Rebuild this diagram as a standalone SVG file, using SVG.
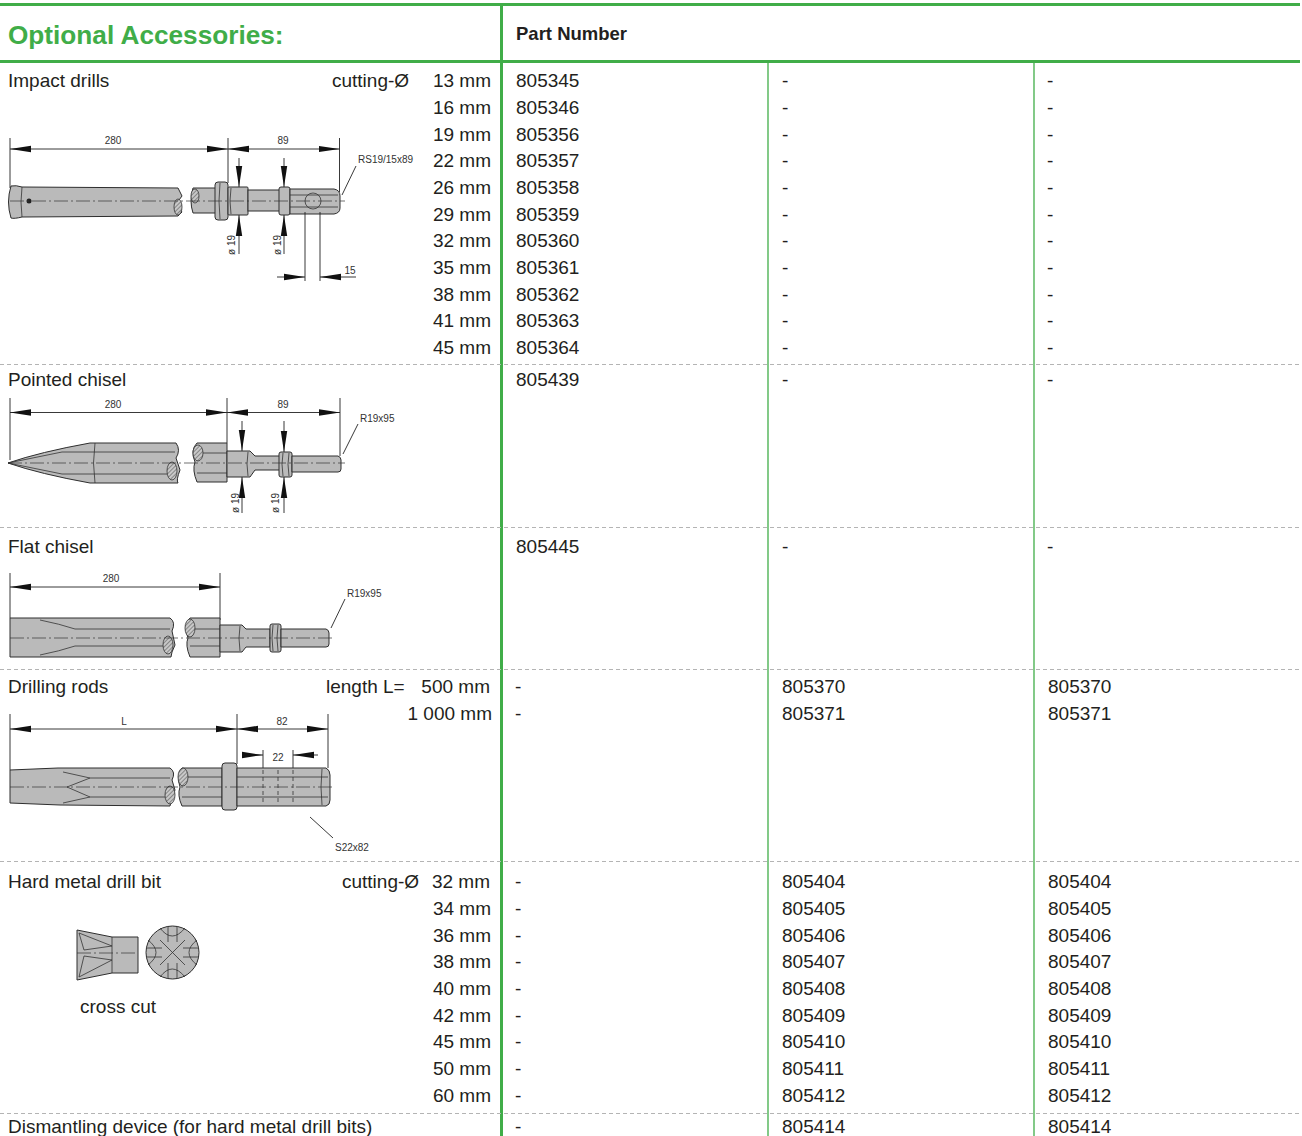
<svg xmlns="http://www.w3.org/2000/svg" width="1302" height="1136" viewBox="0 0 1302 1136">
<style>
.t{font-family:"Liberation Sans",Arial,sans-serif;font-size:19px;fill:#231f20}
.r{text-anchor:end}
.h{font-family:"Liberation Sans",Arial,sans-serif;font-weight:bold}
.d{font-family:"Liberation Sans",Arial,sans-serif;font-size:10px;fill:#333}
.dm{text-anchor:middle}
.sep{stroke:#b4b4b4;stroke-width:1;stroke-dasharray:4 3}
.body{fill:#bababa;stroke:#2e2e2e;stroke-width:1}
.thin{fill:none;stroke:#333;stroke-width:0.8}
.cl{fill:none;stroke:#333;stroke-width:0.7;stroke-dasharray:14 3 2 3}
.ext{stroke:#222;stroke-width:0.9;fill:none}
.dim{stroke:#222;stroke-width:0.9;fill:none;marker-start:url(#ah);marker-end:url(#ah)}
.ar{stroke:#222;stroke-width:0.9;fill:none;marker-end:url(#ah)}
.hat{fill:url(#hatch);stroke:#333;stroke-width:0.8}
</style>
<defs>
<marker id="ah" markerUnits="userSpaceOnUse" markerWidth="21" markerHeight="8" refX="21" refY="4" orient="auto-start-reverse">
<path d="M0,0.8 L21,4 L0,7.2 Z" fill="#111"/>
</marker>
<pattern id="hatch" patternUnits="userSpaceOnUse" width="3" height="3" patternTransform="rotate(45)">
<rect width="3" height="3" fill="#c8c8c8"/>
<line x1="0" y1="0" x2="0" y2="3" stroke="#444" stroke-width="1"/>
</pattern>
</defs>
<rect width="1302" height="1136" fill="#fff"/>

<g id="grid">
<line x1="0" y1="4.5" x2="1300" y2="4.5" stroke="#40ad48" stroke-width="3"/>
<line x1="0" y1="61.5" x2="1300" y2="61.5" stroke="#40ad48" stroke-width="3"/>
<line x1="501.5" y1="3" x2="501.5" y2="1136" stroke="#40ad48" stroke-width="3"/>
<line x1="768" y1="63" x2="768" y2="1136" stroke="#40ad48" stroke-width="1.3"/>
<line x1="1034" y1="63" x2="1034" y2="1136" stroke="#40ad48" stroke-width="1.3"/>
<line class="sep" x1="0" y1="364.5" x2="1302" y2="364.5"/>
<line class="sep" x1="0" y1="527.5" x2="1302" y2="527.5"/>
<line class="sep" x1="0" y1="669.5" x2="1302" y2="669.5"/>
<line class="sep" x1="0" y1="861.5" x2="1302" y2="861.5"/>
<line class="sep" x1="0" y1="1113.5" x2="1302" y2="1113.5"/>
</g>

<g id="header">
<text class="h" x="8" y="44" font-size="26.2" fill="#40ad48">Optional Accessories:</text>
<text class="h" x="516" y="40" font-size="18.5" fill="#231f20">Part Number</text>
</g>

<g id="impact-drills">
<text class="t" x="8" y="87">Impact drills</text>
<text class="t" x="332" y="87">cutting-Ø</text>
<text class="t r" x="491" y="87">13 mm</text>
<text class="t r" x="491" y="114">16 mm</text>
<text class="t r" x="491" y="141">19 mm</text>
<text class="t r" x="491" y="167">22 mm</text>
<text class="t r" x="491" y="194">26 mm</text>
<text class="t r" x="491" y="221">29 mm</text>
<text class="t r" x="491" y="247">32 mm</text>
<text class="t r" x="491" y="274">35 mm</text>
<text class="t r" x="491" y="301">38 mm</text>
<text class="t r" x="491" y="327">41 mm</text>
<text class="t r" x="491" y="354">45 mm</text>
<text class="t" x="516" y="87">805345</text>
<text class="t" x="516" y="114">805346</text>
<text class="t" x="516" y="141">805356</text>
<text class="t" x="516" y="167">805357</text>
<text class="t" x="516" y="194">805358</text>
<text class="t" x="516" y="221">805359</text>
<text class="t" x="516" y="247">805360</text>
<text class="t" x="516" y="274">805361</text>
<text class="t" x="516" y="301">805362</text>
<text class="t" x="516" y="327">805363</text>
<text class="t" x="516" y="354">805364</text>
<g class="t">
<text x="782" y="87">-</text><text x="782" y="114">-</text><text x="782" y="141">-</text><text x="782" y="167">-</text><text x="782" y="194">-</text><text x="782" y="221">-</text><text x="782" y="247">-</text><text x="782" y="274">-</text><text x="782" y="301">-</text><text x="782" y="327">-</text><text x="782" y="354">-</text>
<text x="1047" y="87">-</text><text x="1047" y="114">-</text><text x="1047" y="141">-</text><text x="1047" y="167">-</text><text x="1047" y="194">-</text><text x="1047" y="221">-</text><text x="1047" y="247">-</text><text x="1047" y="274">-</text><text x="1047" y="301">-</text><text x="1047" y="327">-</text><text x="1047" y="354">-</text>
</g>
<g id="drawing-impact">
<line class="ext" x1="10" y1="138" x2="10" y2="188"/>
<line class="ext" x1="228" y1="138" x2="228" y2="183"/>
<line class="ext" x1="339.5" y1="138" x2="339.5" y2="192"/>
<line class="dim" x1="10" y1="149" x2="228" y2="149"/>
<line class="dim" x1="228" y1="149" x2="339.5" y2="149"/>
<text class="d dm" x="113" y="144">280</text>
<text class="d dm" x="283" y="144">89</text>
<path class="body" d="M11,186 Q16,185 22,187 L178,188 L182,196 L176,204 L182,212 L178,216 L22,217 Q14,219 11,218 Q6,202 11,186 Z"/>
<path class="thin" d="M22,187 Q20,202 22,217"/>
<circle cx="29" cy="201" r="2.5" fill="#222"/>
<ellipse class="hat" cx="178" cy="207" rx="4" ry="8"/>
<path class="body" d="M193,188 L216,188 L216,213 L193,213 Q189,201 193,188 Z"/>
<ellipse class="hat" cx="195" cy="196" rx="4" ry="7"/>
<rect class="body" x="215" y="182" width="13" height="38" rx="3"/>
<rect class="body" x="228" y="187" width="20" height="28" rx="1"/>
<rect class="body" x="248" y="190" width="32" height="21"/>
<rect class="body" x="279" y="187" width="11" height="28" rx="2" fill="#a8a8a8"/>
<path class="body" d="M290,189 L334,189 Q340,190 340,196 L340,208 Q340,213 334,214 L290,214 Z"/>
<path class="thin" d="M290,195 L338,195 M290,207 L338,207 M220,183 Q218,201 220,219 M231,188 Q229,201 231,214"/>
<circle class="thin" cx="313" cy="201" r="8"/>
<line class="cl" x1="10" y1="201" x2="345" y2="201"/>
<line class="ar" x1="239" y1="158" x2="239" y2="187"/>
<line class="ar" x1="239" y1="254" x2="239" y2="215"/>
<line class="ar" x1="284" y1="158" x2="284" y2="187"/>
<line class="ar" x1="284" y1="254" x2="284" y2="215"/>
<text class="d dm" transform="translate(235,245) rotate(-90)">ø 19</text>
<text class="d dm" transform="translate(281,245) rotate(-90)">ø 19</text>
<line class="ext" x1="305" y1="212" x2="305" y2="281"/>
<line class="ext" x1="320" y1="212" x2="320" y2="281"/>
<line class="ar" x1="277" y1="277" x2="305" y2="277"/>
<line class="ar" x1="356" y1="277" x2="320" y2="277"/>
<text class="d dm" x="350" y="274">15</text>
<line class="ext" x1="342" y1="195" x2="356" y2="166"/>
<text class="d" x="358" y="163">RS19/15x89</text>
</g>
</g>

<g id="pointed-chisel">
<text class="t" x="8" y="386">Pointed chisel</text>
<text class="t" x="516" y="386">805439</text>
<text class="t" x="782" y="386">-</text>
<text class="t" x="1047" y="386">-</text>
<g id="drawing-pointed">
<line class="ext" x1="10" y1="398" x2="10" y2="460"/>
<line class="ext" x1="227" y1="398" x2="227" y2="443"/>
<line class="ext" x1="340" y1="398" x2="340" y2="456"/>
<line class="dim" x1="10" y1="412.5" x2="227" y2="412.5"/>
<line class="dim" x1="227" y1="412.5" x2="340" y2="412.5"/>
<text class="d dm" x="113" y="408">280</text>
<text class="d dm" x="283" y="408">89</text>
<path class="body" d="M8,463 Q40,452 90,443 L176,443 Q181,450 176,458 L180,470 Q176,480 178,483 L90,483 Q40,474 8,463 Z"/>
<path class="thin" d="M8,463 L62,452 L95,452 L175,452 M8,463 L62,474 L95,474 L175,474 M95,443 Q92,463 95,483"/>
<ellipse class="hat" cx="172" cy="471" rx="5" ry="9"/>
<path class="body" d="M197,443 L227,443 L227,482 L197,482 Q192,470 195,462 Q190,450 197,443 Z"/>
<path class="thin" d="M197,453 L227,453 M197,473 L227,473"/>
<ellipse class="hat" cx="198" cy="453" rx="5" ry="8"/>
<path class="body" d="M227,451 L250,451 L255,456 L280,456 L280,470 L255,470 L250,477 L227,477 Z"/>
<rect class="body" x="279" y="452" width="13" height="25" rx="2"/>
<path class="body" d="M292,456 L338,456 Q341,457 341,460 L341,469 Q341,472 338,472 L292,472 Z"/>
<path class="thin" d="M248,452 Q246,464 248,476 M283,453 Q281,464 283,476 M289,453 Q287,464 289,476"/>
<line class="cl" x1="8" y1="463" x2="345" y2="463"/>
<line class="ar" x1="242" y1="421" x2="242" y2="451"/>
<line class="ar" x1="242" y1="513" x2="242" y2="477"/>
<line class="ar" x1="284" y1="421" x2="284" y2="452"/>
<line class="ar" x1="284" y1="513" x2="284" y2="477"/>
<text class="d dm" transform="translate(238.5,503) rotate(-90)">ø 19</text>
<text class="d dm" transform="translate(278.5,503) rotate(-90)">ø 19</text>
<line class="ext" x1="343" y1="454" x2="358" y2="424"/>
<text class="d" x="360" y="422">R19x95</text>
</g>
</g>

<g id="flat-chisel">
<text class="t" x="8" y="553">Flat chisel</text>
<text class="t" x="516" y="553">805445</text>
<text class="t" x="782" y="553">-</text>
<text class="t" x="1047" y="553">-</text>
<g id="drawing-flat">
<line class="ext" x1="10" y1="573" x2="10" y2="618"/>
<line class="ext" x1="220" y1="573" x2="220" y2="620"/>
<line class="dim" x1="10" y1="587" x2="220" y2="587"/>
<text class="d dm" x="111" y="582">280</text>
<path class="body" d="M10,618 L170,618 Q176,622 172,631 L175,645 Q171,653 171,657 L10,657 Z"/>
<path class="thin" d="M40,620 Q60,624 75,629 L170,629 M40,655 Q60,651 75,646 L170,646"/>
<ellipse class="hat" cx="168" cy="645" rx="5" ry="9"/>
<path class="body" d="M190,618 L220,618 L220,657 L190,657 Q185,645 188,638 Q183,625 190,618 Z"/>
<path class="thin" d="M190,629 L220,629 M190,646 L220,646"/>
<ellipse class="hat" cx="190" cy="628" rx="5" ry="9"/>
<path class="body" d="M220,625 L242,625 L246,629 L270,629 L270,647 L246,647 L242,652 L220,652 Z"/>
<rect class="body" x="270" y="624" width="11" height="28" rx="2"/>
<path class="body" d="M281,629 L326,629 Q329,630 329,633 L329,644 Q329,647 326,647 L281,647 Z"/>
<path class="thin" d="M240,626 Q238,638 240,651 M273,625 Q271,638 273,651 M278,625 Q276,638 278,651"/>
<line class="cl" x1="10" y1="638" x2="332" y2="638"/>
<line class="ext" x1="331" y1="628" x2="345" y2="599"/>
<text class="d" x="347" y="597">R19x95</text>
</g>
</g>

<g id="drilling-rods">
<text class="t" x="8" y="693">Drilling rods</text>
<text class="t" x="326" y="693">length L=</text>
<text class="t r" x="490" y="693">500 mm</text>
<text class="t r" x="492" y="720">1 000 mm</text>
<text class="t" x="515" y="693">-</text>
<text class="t" x="515" y="720">-</text>
<text class="t" x="782" y="693">805370</text>
<text class="t" x="782" y="720">805371</text>
<text class="t" x="1048" y="693">805370</text>
<text class="t" x="1048" y="720">805371</text>
<g id="drawing-rods">
<line class="ext" x1="10" y1="714" x2="10" y2="770"/>
<line class="ext" x1="237" y1="714" x2="237" y2="764"/>
<line class="ext" x1="328" y1="714" x2="328" y2="768"/>
<line class="dim" x1="10" y1="729" x2="237" y2="729"/>
<line class="dim" x1="237" y1="729" x2="328" y2="729"/>
<text class="d dm" x="124" y="725">L</text>
<text class="d dm" x="282" y="725">82</text>
<line class="ext" x1="263" y1="750" x2="263" y2="778"/>
<line class="ext" x1="293" y1="750" x2="293" y2="778"/>
<line class="ar" x1="242" y1="755" x2="263" y2="755"/>
<line class="ar" x1="318" y1="755" x2="293" y2="755"/>
<text class="d dm" x="278" y="761">22</text>
<path class="body" d="M10,770 L58,768 L170,768 Q176,772 172,780 L175,790 Q171,800 170,806 L60,805 L10,803 Z"/>
<path class="thin" d="M63,772 L90,778 L67,787 L90,797 L63,803 M90,778 L170,778 M90,797 L170,797"/>
<ellipse class="hat" cx="170" cy="795" rx="5" ry="9"/>
<path class="body" d="M182,768 L222,768 L222,806 L182,806 Q177,795 180,787 Q176,775 182,768 Z"/>
<path class="thin" d="M182,777 L222,777 M182,797 L222,797"/>
<ellipse class="hat" cx="183" cy="777" rx="5" ry="9"/>
<rect class="body" x="222" y="763" width="15" height="47" rx="3"/>
<path class="body" d="M237,768 L326,768 Q330,770 330,775 L330,800 Q330,805 326,806 L237,806 Z"/>
<path class="thin" d="M237,777 L328,777 M237,797 L328,797 M322,769 Q320,787 322,805"/>
<path class="thin" stroke-dasharray="4 3" d="M263,770 L263,805 M278,770 L278,805 M293,770 L293,805"/>
<line class="cl" x1="10" y1="787" x2="332" y2="787"/>
<line class="ext" x1="310" y1="817" x2="333" y2="838"/>
<text class="d" x="335" y="851">S22x82</text>
</g>
</g>

<g id="hard-metal-drill-bit">
<text class="t" x="8" y="888">Hard metal drill bit</text>
<text class="t" x="342" y="888">cutting-Ø</text>
<text class="t r" x="490" y="888">32 mm</text>
<text class="t r" x="491" y="915">34 mm</text>
<text class="t r" x="491" y="942">36 mm</text>
<text class="t r" x="491" y="968">38 mm</text>
<text class="t r" x="491" y="995">40 mm</text>
<text class="t r" x="491" y="1022">42 mm</text>
<text class="t r" x="491" y="1048">45 mm</text>
<text class="t r" x="491" y="1075">50 mm</text>
<text class="t r" x="491" y="1102">60 mm</text>
<g class="t">
<text x="515" y="888">-</text><text x="515" y="915">-</text><text x="515" y="942">-</text><text x="515" y="968">-</text><text x="515" y="995">-</text><text x="515" y="1022">-</text><text x="515" y="1048">-</text><text x="515" y="1075">-</text><text x="515" y="1102">-</text>
<text x="782" y="888">805404</text><text x="782" y="915">805405</text><text x="782" y="942">805406</text><text x="782" y="968">805407</text><text x="782" y="995">805408</text><text x="782" y="1022">805409</text><text x="782" y="1048">805410</text><text x="782" y="1075">805411</text><text x="782" y="1102">805412</text>
<text x="1048" y="888">805404</text><text x="1048" y="915">805405</text><text x="1048" y="942">805406</text><text x="1048" y="968">805407</text><text x="1048" y="995">805408</text><text x="1048" y="1022">805409</text><text x="1048" y="1048">805410</text><text x="1048" y="1075">805411</text><text x="1048" y="1102">805412</text>
</g>
<g id="drawing-bit">
<path class="body" d="M77,930 L112,937 L138,937 L138,973 L112,973 L77,980 Z"/>
<path class="thin" d="M79,933 L112,946 L84,950 Z M79,977 L112,960 L84,956 Z M112,937 L112,973"/>
<line class="cl" x1="77" y1="953" x2="138" y2="953"/>
<circle class="body" cx="172.5" cy="952.5" r="26.5"/>
<path class="thin" d="M160,940 L185,965 M185,940 L160,965 M160,928 Q172,944 185,928 M160,977 Q172,961 185,977 M148,940 Q164,952.5 148,965 M197,940 Q181,952.5 197,965 M146,948 L162,948 M146,957 L162,957 M183,948 L199,948 M183,957 L199,957 M168,926 L168,942 M177,926 L177,942 M168,963 L168,979 M177,963 L177,979"/>
<text class="t" x="80" y="1013">cross cut</text>
</g>
</g>

<g id="dismantling-device">
<text class="t" x="8" y="1133">Dismantling device (for hard metal drill bits)</text>
<text class="t" x="515" y="1133">-</text>
<text class="t" x="782" y="1133">805414</text>
<text class="t" x="1048" y="1133">805414</text>
</g>
</svg>
